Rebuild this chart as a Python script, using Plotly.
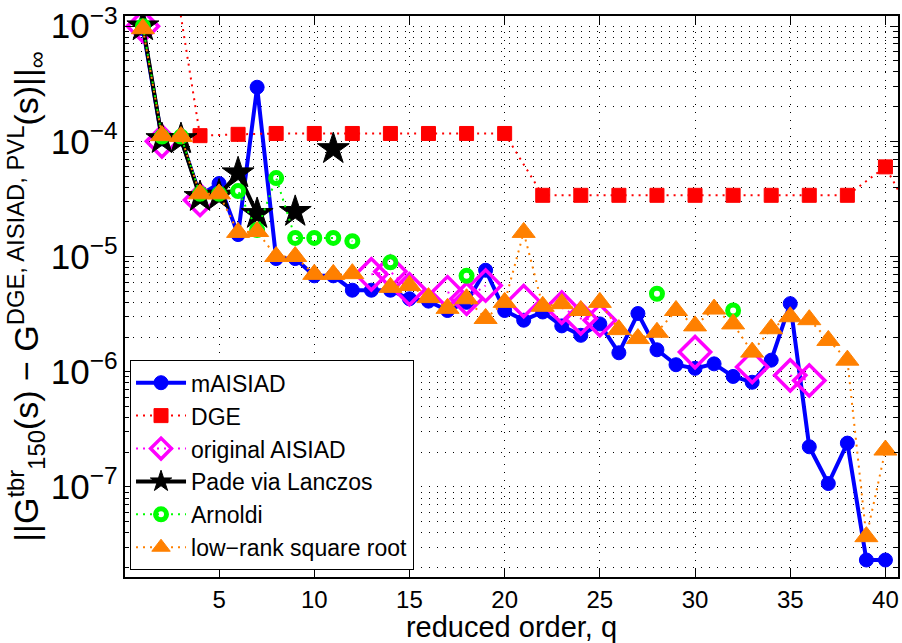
import plotly.graph_objects as go

N = None
q = list(range(1, 41))

maisiad = [9.5e-4, 1.05e-4, 1.05e-4, 3.4e-5, 4.3e-5, 1.55e-5, 2.95e-4, 9.6e-6, 9.6e-6, 6.8e-6,
           6.8e-6, 5.1e-6, 5.1e-6, 5.1e-6, 4.3e-6, 4.1e-6, 3.4e-6, 4.0e-6, 7.6e-6, 3.4e-6,
           2.8e-6, 3.3e-6, 2.5e-6, 2.07e-6, 2.6e-6, 1.46e-6, 3.2e-6, 1.55e-6, 1.15e-6, 1.07e-6,
           1.17e-6, 9.1e-7, 8.1e-7, 1.26e-6, 3.9e-6, 2.23e-7, 1.07e-7, 2.4e-7, 2.32e-8, 2.32e-8]

q_dge = list(range(2, 43, 2))
dge = [1.3e-2, 1.12e-4, 1.15e-4, 1.17e-4, 1.17e-4, 1.17e-4, 1.17e-4, 1.17e-4, 1.17e-4, 1.17e-4,
       3.4e-5, 3.4e-5, 3.4e-5, 3.4e-5, 3.4e-5, 3.4e-5, 3.4e-5, 3.4e-5, 3.4e-5, 6.0e-5, 1.5e-5]

aisiad = [1.0e-3, 1.0e-4, N, 3.1e-5, N, N, N, N, N, N,
          N, N, 7.0e-6, 7.4e-6, 5.2e-6, N, 4.9e-6, 4.3e-6, 5.6e-6, N,
          4.1e-6, N, 3.6e-6, 2.9e-6, 2.8e-6, N, N, N, N, 1.48e-6,
          N, N, 1.1e-6, N, 9.3e-7, 8.4e-7, N, N, N, N]

q_pvl = list(range(1, 12))
pvl = [1.0e-3, 1.05e-4, 1.05e-4, 3.3e-5, 3.4e-5, 5.3e-5, 2.35e-5, N, 2.45e-5, N, 8.6e-5]

q_arn = list(range(1, 33))
arnoldi = [1.0e-3, 1.1e-4, 1.1e-4, 3.5e-5, 3.5e-5, 3.7e-5, 1.7e-5, 4.8e-5, 1.45e-5, 1.45e-5,
           1.45e-5, 1.36e-5, N, 8.9e-6, N, N, N, 6.8e-6, N, N,
           N, N, N, N, N, N, N, 4.75e-6, N, N,
           N, 3.4e-6]

lowrank = [9.5e-4, 1.12e-4, 1.1e-4, 3.5e-5, 3.5e-5, 1.62e-5, 1.65e-5, 1.0e-5, 1.0e-5, 7.0e-6,
           7.0e-6, 7.1e-6, N, 5.4e-6, 5.6e-6, 4.4e-6, 3.55e-6, 4.3e-6, 2.9e-6, 4.0e-6,
           1.62e-5, 3.7e-6, 3.9e-6, 3.4e-6, 4.0e-6, 2.32e-6, 1.94e-6, 2.2e-6, 3.4e-6, 2.5e-6,
           3.5e-6, 2.6e-6, 1.48e-6, 2.36e-6, 3.0e-6, 2.83e-6, 1.87e-6, 1.26e-6, 3.7e-8, 2.09e-7]

names = ["mAISIAD", "DGE", "original AISIAD", "Pade via Lanczos", "Arnoldi", "low\u2212rank square root"]
DOT = "2px,5px"

fig = go.Figure()
fig.add_trace(go.Scatter(x=q, y=maisiad, name=names[0], mode="lines+markers",
                         line=dict(color="#0000FF", width=4),
                         marker=dict(symbol="circle", size=14, color="#0000FF",
                                     line=dict(color="#0000FF", width=1))))
fig.add_trace(go.Scatter(x=q_dge, y=dge, name=names[1], mode="lines+markers",
                         line=dict(color="#FF0000", width=2, dash=DOT),
                         marker=dict(symbol="square", size=14, color="#FF0000",
                                     line=dict(color="#FF0000", width=1))))
fig.add_trace(go.Scatter(x=q, y=aisiad, name=names[2], mode="lines+markers",
                         line=dict(color="#FF00FF", width=2, dash=DOT),
                         marker=dict(symbol="diamond-open", size=24, color="#FF00FF",
                                     line=dict(color="#FF00FF", width=3.5))))
fig.add_trace(go.Scatter(x=q_pvl, y=pvl, name=names[3], mode="lines+markers",
                         line=dict(color="#000000", width=4),
                         marker=dict(symbol="star", size=24, color="#000000",
                                     line=dict(color="#000000", width=1))))
fig.add_trace(go.Scatter(x=q_arn, y=arnoldi, name=names[4], mode="lines+markers",
                         line=dict(color="#00FF00", width=2, dash=DOT),
                         marker=dict(symbol="circle-open", size=11, color="#00FF00",
                                     line=dict(color="#00FF00", width=5))))
fig.add_trace(go.Scatter(x=q, y=lowrank, name=names[5], mode="lines+markers",
                         line=dict(color="#FF8000", width=2, dash=DOT),
                         marker=dict(symbol="triangle-up", size=20, color="#FF8000",
                                     line=dict(color="#FF8000", width=1))))

GRID = dict(showgrid=True, gridcolor="#000000", gridwidth=1, griddash="1px,7px")
fig.update_xaxes(range=[0.06, 40.66], tick0=0, dtick=5, ticks="inside", ticklen=8,
                 tickcolor="black", showline=True, linecolor="black", linewidth=1.5,
                 mirror="ticks", zeroline=False,
                 tickfont=dict(size=24, color="black"),
                 title=dict(text="reduced order, q", font=dict(size=29, color="black"), standoff=0),
                 **GRID)
fig.update_yaxes(type="log", range=[-7.782, -2.912], dtick=1, exponentformat="power",
                 ticks="inside", ticklen=8, tickcolor="black", showline=True,
                 linecolor="black", linewidth=1.5, mirror="ticks", zeroline=False,
                 tickfont=dict(size=28, color="black"),
                 minor=dict(dtick="D1", ticks="inside", ticklen=4, tickcolor="black",
                            showgrid=True, gridcolor="#000000", gridwidth=1, griddash="1px,7px"),
                 title=dict(text="||G<sup>tbr</sup><sub>150</sub>(s) \u2212 G<sup>DGE, AISIAD, PVL</sup>(s)||<sub>\u221e</sub>",
                            font=dict(size=34, color="black"), standoff=2),
                 **GRID)
fig.update_layout(width=902, height=643, margin=dict(l=125, r=2, t=15, b=66),
                  paper_bgcolor="white", plot_bgcolor="white",
                  font=dict(family="Liberation Sans, Arial, sans-serif", color="black"),
                  legend=dict(x=0.0065, y=0.012, xanchor="left", yanchor="bottom",
                              bgcolor="white", bordercolor="black", borderwidth=1,
                              itemwidth=50,
                              font=dict(size=23, color="black"), tracegroupgap=0),
                  showlegend=True)
fig.write_html("out.html")
